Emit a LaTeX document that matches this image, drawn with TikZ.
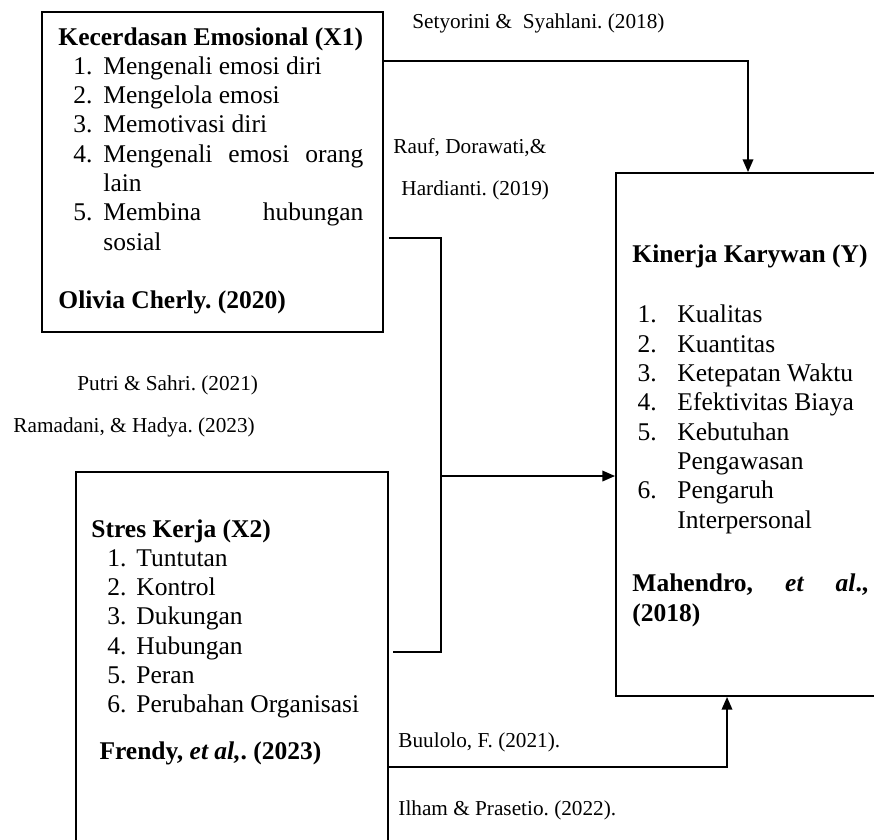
\documentclass[tikz,border=0pt]{standalone}
\usepackage{fontspec}
\setmainfont{Liberation Serif}
\usetikzlibrary{arrows.meta,fit}
\frenchspacing

% numbered line with hanging indent
\newcommand{\li}[3][7pt]{\par\hangindent=21.2pt\hangafter=1\noindent\makebox[21.2pt][l]{\hspace*{#1}#2}#3}

\begin{document}
\begin{tikzpicture}[x=0.4706pt,y=-0.4706pt,
    box/.style={draw,line width=0.9pt,inner sep=0pt},
    boxtext/.style={anchor=base west,inner sep=0pt,align=justify,font=\fontsize{12}{13.8}\selectfont},
    lbl/.style={anchor=base west,inner sep=0pt,font=\fontsize{10}{12}\selectfont},
    conn/.style={line width=0.8pt},
    arr/.style={conn,-{Triangle[length=6pt,width=5pt]}}]
  \useasboundingbox (0,0) rectangle (874,839);
  % boxes
  \node[box,fit={(42,12) (383,332)}] (x1) {};
  \node[box,fit={(76,472) (388,870)}] (x2) {};
  \node[box,fit={(616,173) (890,696)}] (y) {};
  % box texts
  \node[boxtext,text width=143.5pt] (x1txt) at (58,45) {\textbf{Kecerdasan Emosional (X1)}
    \li{1.}{Mengenali emosi diri}
    \li{2.}{Mengelola emosi}
    \li{3.}{Memotivasi diri}
    \li{4.}{Mengenali emosi orang\linebreak lain}
    \li{5.}{Membina hubungan\linebreak sosial}
    \par\vskip13.4pt\noindent\textbf{Olivia Cherly. (2020)}};
  \node[boxtext,text width=136pt] (x2txt) at (91,537) {\textbf{Stres Kerja (X2)}
    \li[7.5pt]{1.}{Tuntutan}
    \li[7.5pt]{2.}{Kontrol}
    \li[7.5pt]{3.}{Dukungan}
    \li[7.5pt]{4.}{Hubungan}
    \li[7.5pt]{5.}{Peran}
    \li[7.5pt]{6.}{Perubahan Organisasi}
    \par\vskip8.2pt\noindent\hspace*{3.8pt}\textbf{Frendy, \textit{et al,}. (2023)}};
  \node[boxtext,text width=111pt] (ytxt) at (632,262) {\textbf{Kinerja Karywan (Y)}
    \par\vskip14.8pt
    \li[2.4pt]{1.}{Kualitas}
    \li[2.4pt]{2.}{Kuantitas}
    \li[2.4pt]{3.}{Ketepatan Waktu}
    \li[2.4pt]{4.}{Efektivitas Biaya}
    \li[2.4pt]{5.}{Kebutuhan\newline Pengawasan}
    \li[2.4pt]{6.}{Pengaruh\newline Interpersonal}
    \par\vskip16.2pt\noindent\textbf{Mahendro, \textit{et al}.,}\linebreak\textbf{(2018)}};
  % references
  \node[lbl] (lbsety) at (412,28) {Setyorini \& \ Syahlani. (2018)};
  \node[lbl] (lbrauf) at (393,153) {Rauf, Dorawati,\&};
  \node[lbl] (lbhard) at (401,195) {Hardianti. (2019)};
  \node[lbl] (lbputri) at (77,390) {Putri \& Sahri. (2021)};
  \node[lbl] (lbrama) at (13,432) {Ramadani, \& Hadya. (2023)};
  \node[lbl] (lbbuu) at (398,747) {Buulolo, F. (2021).};
  \node[lbl] (lbilham) at (398,815) {Ilham \& Prasetio. (2022).};
  % connectors
  \coordinate (ka) at (748,61);
  \coordinate (jn) at (441,476);
  \coordinate (kb) at (727,767);
  \path (x1.east |- 0,238) ++(5,0) coordinate (b1);
  \path (x2.east |- 0,652) ++(4,0) coordinate (b2);
  \draw[arr] (x1.east |- ka) -| (y.north -| ka);
  \draw[conn] (b1) -| (jn) |- (b2);
  \draw[arr] (jn) -- (y.west |- jn);
  \draw[arr] (x2.east |- kb) -| (y.south -| kb);
\end{tikzpicture}
\end{document}
